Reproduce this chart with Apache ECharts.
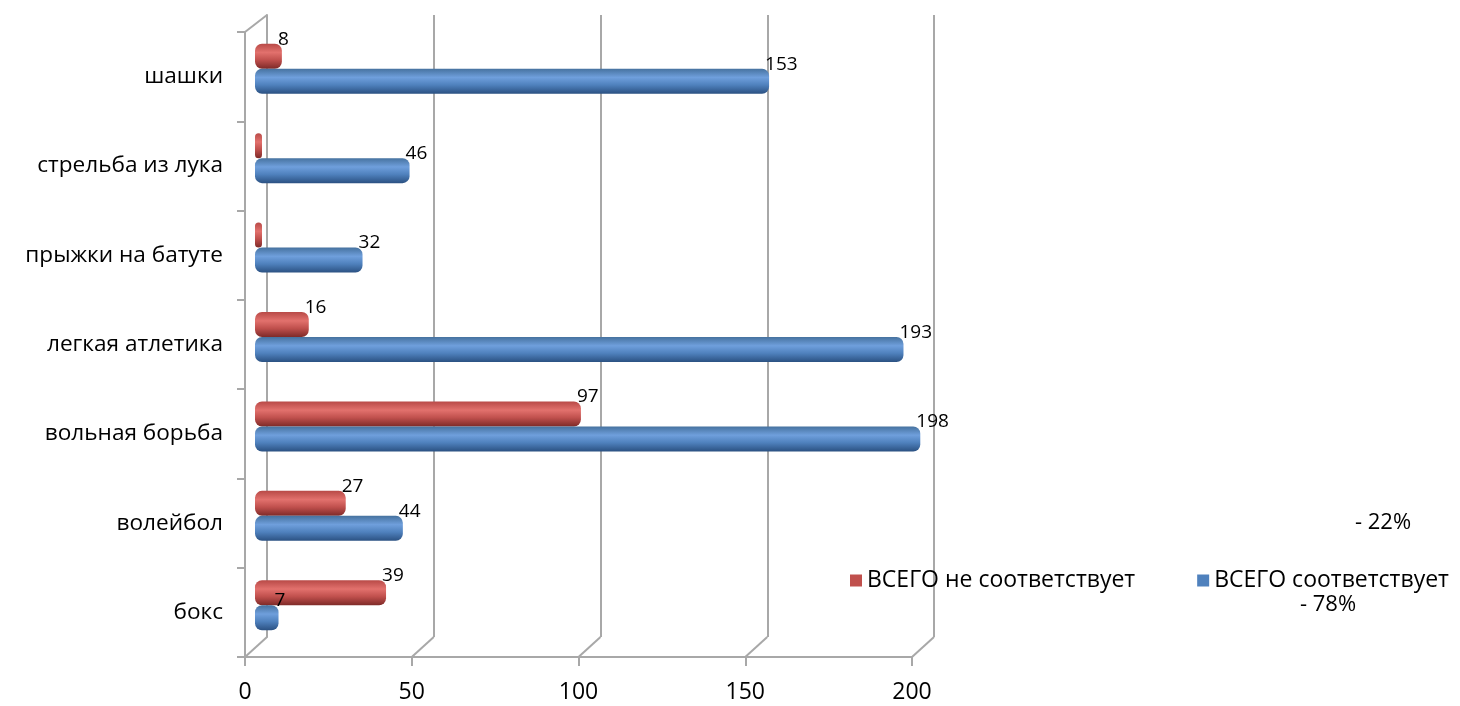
<!DOCTYPE html>
<html><head><meta charset="utf-8">
<script src="https://cdn.jsdelivr.net/npm/echarts@6/dist/echarts.min.js"></script>
<style>html,body{margin:0;padding:0;background:#fff}#c{width:1460px;height:706px}</style>
</head><body><div id="c"></div>
<script>
var categories = ['бокс','волейбол','вольная борьба','легкая атлетика','прыжки на батуте','стрельба из лука','шашки'];
var notMatch = [39, 27, 97, 16, 0, 0, 8];
var match = [7, 44, 198, 193, 32, 46, 153];
var xTicks = [0, 50, 100, 150, 200];
var seriesNames = ['ВСЕГО не соответствует', 'ВСЕГО соответствует'];
var seriesColors = ['#c0504d', '#4f81bd'];
var shareNot = '- 22%';
var shareMatch = '- 78%';

var FONT = 'Open Sans';
var GRAY = '#a8a8a8';
var chart = echarts.init(document.getElementById('c'), null, {renderer:'canvas'});

function cyl(c0, c1, c2, c3){
  return new echarts.graphic.LinearGradient(0,0,0,1,[
    {offset:0, color:c0},{offset:0.35, color:c1},{offset:0.65, color:c2},{offset:1, color:c3}]);
}
var lbl = {
  show:true, position:'right', offset:[-9,-17], color:'#000', fontFamily:FONT, fontSize:19,
  formatter:function(p){ return p.value ? p.value : ''; }
};

var option = {
  animation:false,
  textStyle:{fontFamily:FONT},
  grid:[
    {left:245, right:548, top:32, bottom:49},
    {left:267, right:526, top:15, bottom:69},
    {left:255, right:533, top:24, bottom:56}
  ],
  xAxis:[
    {gridIndex:0, type:'value', min:0, max:200, interval:50,
     axisLine:{show:true, lineStyle:{color:GRAY, width:2}},
     axisTick:{show:true, length:9, lineStyle:{color:GRAY, width:2}},
     axisLabel:{color:'#000', fontSize:23, fontFamily:FONT, margin:24},
     splitLine:{show:false}},
    {gridIndex:1, type:'value', min:0, max:200, interval:50,
     axisLine:{show:false}, axisTick:{show:false}, axisLabel:{show:false},
     splitLine:{show:true, lineStyle:{color:GRAY, width:2}}},
    {gridIndex:2, type:'value', min:0, max:200, show:false}
  ],
  yAxis:[
    {gridIndex:0, type:'category', data:categories,
     axisLine:{show:true, lineStyle:{color:GRAY, width:2}},
     axisTick:{show:true, length:8, lineStyle:{color:GRAY, width:2}},
     axisLabel:{color:'#000', fontSize:22.6, fontFamily:FONT, margin:22, padding:[7,0,0,0]}},
    {gridIndex:1, type:'category', data:categories,
     axisLine:{show:true, lineStyle:{color:GRAY, width:2}},
     axisTick:{show:false}, axisLabel:{show:false}},
    {gridIndex:2, type:'category', data:categories, show:false}
  ],
  legend:{
    left:845, top:564, itemWidth:12, itemHeight:12, itemGap:62, icon:'rect',
    textStyle:{color:'#000', fontSize:23, fontFamily:FONT},
    data:[
      {name:seriesNames[0], itemStyle:{color:seriesColors[0]}},
      {name:seriesNames[1], itemStyle:{color:seriesColors[1]}}
    ]
  },
  series:[
    {name:seriesNames[0], type:'bar', xAxisIndex:2, yAxisIndex:2, data:notMatch,
     barWidth:25, barGap:'0%', barMinHeight:7,
     itemStyle:{color:cyl('#b84a47','#e2716d','#c0504d','#7e2a28'), borderRadius:7},
     label:lbl},
    {name:seriesNames[1], type:'bar', xAxisIndex:2, yAxisIndex:2, data:match,
     barWidth:25, barGap:'0%',
     itemStyle:{color:cyl('#46729f','#6f9fdc','#4f81bd','#2b5182'), borderRadius:7},
     label:lbl}
  ]
};
chart.setOption(option);

// 3D wall/floor connectors computed from the axes
var g = [];
var ls = {stroke:GRAY, lineWidth:2};
var fr = chart.getModel().getComponent('grid',0).coordinateSystem.getRect();
var br = chart.getModel().getComponent('grid',1).coordinateSystem.getRect();
xTicks.forEach(function(v){
  var f = chart.convertToPixel({xAxisIndex:0, yAxisIndex:0}, [v, categories[0]]);
  var b = chart.convertToPixel({xAxisIndex:1, yAxisIndex:1}, [v, categories[0]]);
  g.push({type:'line', shape:{x1:f[0], y1:fr.y+fr.height, x2:b[0], y2:br.y+br.height}, style:ls, z:1});
});
g.push({type:'line', shape:{x1:fr.x, y1:fr.y, x2:br.x, y2:br.y}, style:ls, z:1});
g.push({type:'text', left:1355, top:512, style:{text:shareNot, fill:'#000', font:'22px "'+FONT+'"'}});
g.push({type:'text', left:1300, top:594, style:{text:shareMatch, fill:'#000', font:'22px "'+FONT+'"'}});
chart.setOption({graphic:g});
</script></body></html>
